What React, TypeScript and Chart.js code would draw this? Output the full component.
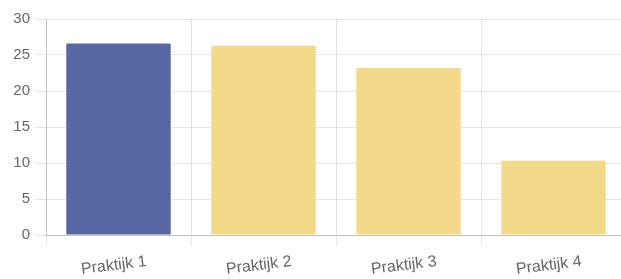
import React, { useEffect, useRef } from "react";
import { Chart, registerables } from "chart.js";

Chart.register(...registerables);

const categories = ["Praktijk 1", "Praktijk 2", "Praktijk 3", "Praktijk 4"];
const values = [26.6, 26.3, 23.2, 10.3];
const barColors = ["#5667a2", "#f3da8b", "#f3da8b", "#f3da8b"];
const yTicks = [0, 5, 10, 15, 20, 25, 30];

export default function App() {
  const ref = useRef<HTMLCanvasElement | null>(null);

  useEffect(() => {
    if (!ref.current) return;
    const chart = new Chart(ref.current, {
      type: "bar",
      data: {
        labels: categories,
        datasets: [
          {
            data: values,
            backgroundColor: barColors,
            borderColor: barColors,
            borderWidth: 0,
          },
        ],
      },
      options: {
        animation: false,
        responsive: true,
        maintainAspectRatio: false,
        layout: { padding: { top: 19, right: 0, left: 0, bottom: 0 } },
        plugins: { legend: { display: false }, tooltip: { enabled: false } },
        scales: {
          x: {
            grid: { color: "rgba(0,0,0,0.1)", tickLength: 10, offset: true },
            border: { color: "rgba(0,0,0,0.15)" },
            ticks: {
              color: "#666",
              font: { family: "'Liberation Sans', Arial, sans-serif", size: 16 },
              minRotation: 7,
              maxRotation: 7,
              labelOffset: 28,
              padding: 7,
            },
            afterFit: (s: any) => {
              s.height = 44;
            },
          },
          y: {
            min: 0,
            max: 30,
            afterBuildTicks: (s: any) => {
              s.ticks = yTicks.map((v) => ({ value: v }));
            },
            grid: { color: "rgba(0,0,0,0.1)", tickLength: 11 },
            border: { color: "rgba(0,0,0,0.15)" },
            ticks: {
              color: "#666",
              font: { family: "'Liberation Sans', Arial, sans-serif", size: 15 },
              padding: 5,
            },
            afterFit: (s: any) => {
              s.width = 46;
            },
          },
        },
      },
    });
    return () => chart.destroy();
  }, []);

  return (
    <div
      style={{
        position: "fixed",
        left: 0,
        top: 0,
        width: 621,
        height: 279,
        overflow: "hidden",
        background: "#fff",
      }}
    >
      <div style={{ width: 626, height: 279, position: "relative" }}>
        <canvas ref={ref} />
      </div>
    </div>
  );
}
